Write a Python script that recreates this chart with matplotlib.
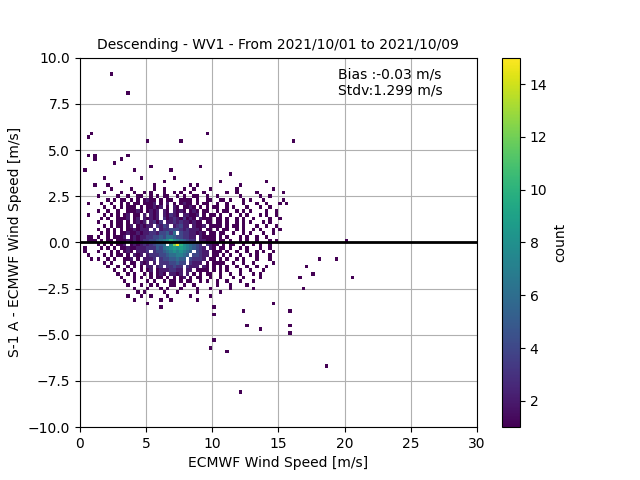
import matplotlib
matplotlib.use("Agg")
import matplotlib.pyplot as plt

# core density grid, read row by row: each char = count in a 0.25 x 0.2 m/s bin
# ('.'=0, '1'-'9', 'a'-'f' = 10-15); first column at x = 1.0 m/s
core_x0 = 1.0
core_y = [2.8, 2.6, 2.4, 2.2, 2.0, 1.8, 1.6, 1.4, 1.2, 1.0, 0.8, 0.6, 0.4, 0.2, 0.0,
          -0.2, -0.4, -0.6, -0.8, -1.0, -1.2, -1.4, -1.6, -1.8, -2.0, -2.2, -2.4,
          -2.6, -2.8, -3.0, -3.2]
core_rows = [
    ".....1.....1......1..1.....1..1....1.......1..........1",
    "...1....1...1..1.1...1..1.1..1...1......1..1.....1.......1",
    ".1.....1..1..11..1.1.11..1.1..11..1..1......1.....1..1",
    "....1.1.11.1.1.1211.1.11..1111.1..11..11.1...1.1...1.....1",
    "..1..1..1.1.11.1112.1.2.1.1211.1.11..1..1....1...1..1...1.1",
    "...1..1.1.111.1.11212.1.21.1121.1.1.11..1.1...1...1..1",
    ".1..1..1..11121.1212.21.2121.121.11..1.11..1.1.1....1..1",
    "...1.1.1.12.11.2.212.21321.22112.1.11.1..1..1.1...1.1..1",
    "..1.1..1112.12.21212.3123213121.2111.11.1..1.1..1....1..1",
    ".1...1.11.1.1212.2313.22323221211.11.11.1..1.1.1...1.1",
    "...1.1.11.12.12122.3243.23422.2112.1111.1.11.1...1..1..1",
    ".1..1.1.1.1121222.3.2334443232221.11.1.11..1.1..1.1...1.1",
    "..1.1.1.11211212233244536.43322121.11.11..1..1.1...1..1",
    ".1..1.1112.12122334454665443322.21111.1.1...1.1..1..1",
    "1.1.11.1112121233445678a8765433.22111.11.1..1.1..1...1.1",
    ".1.1.1.112.12123234556.8cfa876543.3211.1.11..1..1.1..1",
    "..1.1.1.11211222333546789898765432.21.11.1..1.1...1..1",
    ".1...1.1.121.2223.344567878765.4322.111.1..1..1..1.1..1",
    "...1.1.11.1.212.2333445667765.44322.11.1.1..1..1.1...1",
    ".1..1.1..112.1.2223.34455655.43332.11.1.1..1.1...1...1",
    "...1.1...1.11.212.2.33344544.3222.1.1111..1..1..1.....1",
    "....1..1..1.1.1.22.23.33433.3222.21.1.1.1..1..1..1..1",
    "......1..1.1..1.12.12223322.22.1111.1.1.1...1..1...1",
    ".......1..1.1..1.1.121.2212.2.1.1.11..1..1..1...1.1",
    "........1...1.1..1.11.1.1.12.1.11..1..1...1..1....1",
    ".........1..1...1.1..1.11.1.11..1.1..1..1...1...1",
    "..........1...1..1.1...11..1..1......1...1....1",
    "............1...1...1.1...1....1...1.....1......1",
    ".............1.1.....1...1.....1......1",
    "..............1..1....1......1.....1",
    "............1.......1..1.......1",
]

# isolated points outside the core
out_x = [2.3, 3.7, 0.6, 0.8, 5.0, 7.5, 9.5, 16.2, 0.5, 1.2, 3.6, 1.0, 0.4, 14.0,
         0.8, 0.5, 0.3, 0.6, 0.7, 0.4, 0.9, 19.3, 20.0, 20.6, 18.2, 17.0, 17.6,
         16.5, 16.8, 9.9, 11.0, 12.0, 18.6, 12.6, 13.6, 15.8, 15.8, 14.7, 12.3,
         10.0, 10.0, 15.8, 6.0, 5.2, 3.6, 10.0, 1.0, 0.6, 0.5, 0.9,
         1.8, 2.6, 3.2, 4.1, 5.6, 6.4, 7.2, 8.3, 9.1, 10.6, 11.4, 12.2, 2.0, 4.6,
         6.9, 8.8, 3.0, 5.3]
out_y = [9.0, 8.1, 5.8, 5.9, 5.5, 5.4, 5.9, 5.4, 4.8, 4.8, 4.8, 4.4, 3.9, 3.4,
         0.4, 0.0, -0.5, 0.3, -0.6, -0.2, 0.2, -0.9, 0.0, -1.8, -1.0, -1.4, -1.6,
         -2.0, -2.4, -5.8, -6.0, -8.2, -6.8, -4.4, -4.8, -4.6, -5.0, -3.2, -3.7,
         -3.9, -3.4, -3.6, -3.4, -3.2, -3.0, -5.2, 3.2, 2.2, 1.6, -0.9,
         3.6, 4.3, 3.3, 3.9, 3.1, 3.4, 3.5, 3.2, 4.0, 3.3, 3.8, 3.1, 3.0, 3.5,
         3.9, 3.1, 4.5, 4.1]

xs, ys, ws = list(out_x), list(out_y), [1] * len(out_x)
for yv, row in zip(core_y, core_rows):
    for c, ch in enumerate(row):
        if ch != ".":
            xs.append(core_x0 + c * 0.25 + 0.125)
            ys.append(yv + 0.1)
            ws.append(int(ch, 16))

fig, ax = plt.subplots(figsize=(6.4, 4.8), dpi=100)
h = ax.hist2d(xs, ys, weights=ws, bins=[120, 100], range=[[0, 30], [-10, 10]],
              cmin=1, vmin=1, vmax=15, cmap="viridis")
cb = fig.colorbar(h[3], ax=ax)
cb.set_label("count")
ax.axhline(0, color="black", lw=2)
ax.grid(True)
ax.set_axisbelow(True)
ax.set_xlim(0, 30)
ax.set_ylim(-10, 10)
ax.set_xlabel("ECMWF Wind Speed [m/s]")
ax.set_ylabel("S-1 A - ECMWF Wind Speed [m/s]")
ax.set_title("Descending - WV1 - From 2021/10/01 to 2021/10/09", fontsize=10)
ax.text(19.5, 8.0, "Bias :-0.03 m/s\nStdv:1.299 m/s", fontsize=10)
fig.savefig("out.png", dpi=100)
